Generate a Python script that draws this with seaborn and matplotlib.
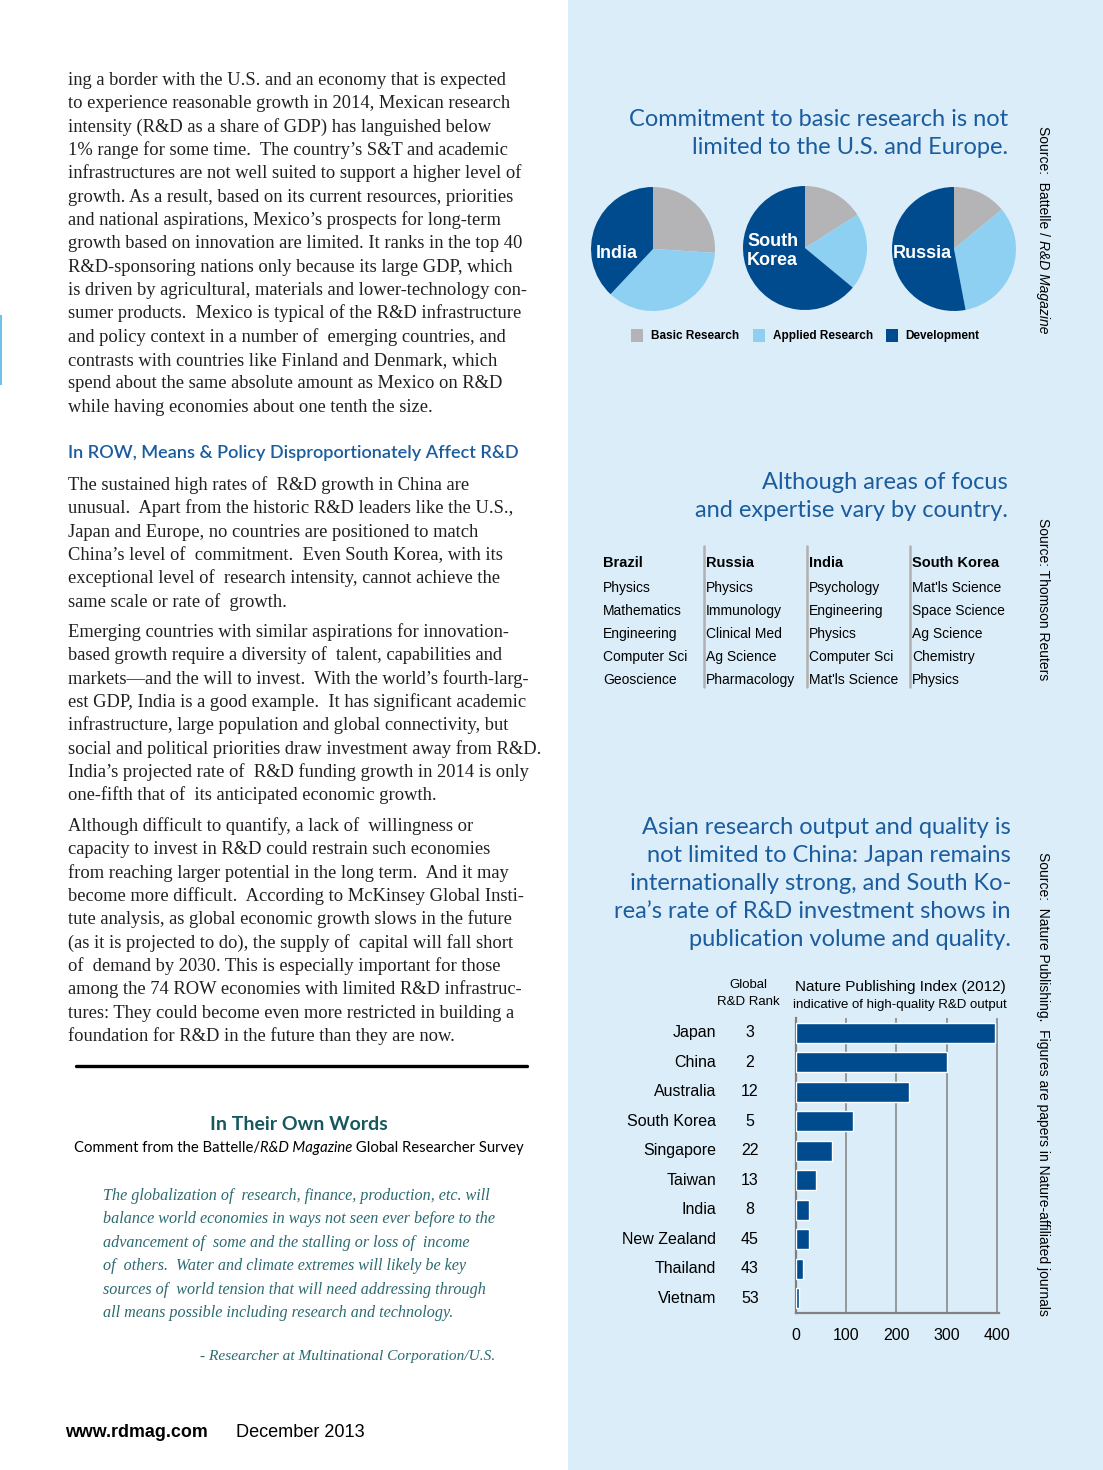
import matplotlib
matplotlib.use("Agg")
import matplotlib.pyplot as plt
import matplotlib.transforms as mtransforms
from matplotlib.patches import Rectangle
from matplotlib.lines import Line2D
from matplotlib.ticker import FixedLocator
import seaborn as sns
import pandas as pd
import numpy as np

# ---------------- data ----------------
pie_labels = ["India", "South\nKorea", "Russia"]
pie_categories = ["Basic Research", "Applied Research", "Development"]
india_shares = [26, 36, 38]
south_korea_shares = [16, 20, 64]
russia_shares = [14, 33, 53]

focus_countries = ["Brazil", "Russia", "India", "South Korea"]
brazil_fields = ["Physics", "Mathematics", "Engineering", "Computer Sci", "Geoscience"]
russia_fields = ["Physics", "Immunology", "Clinical Med", "Ag Science", "Pharmacology"]
india_fields = ["Psychology", "Engineering", "Physics", "Computer Sci", "Mat'ls Science"]
korea_fields = ["Mat'ls Science", "Space Science", "Ag Science", "Chemistry", "Physics"]

npi_countries = ["Japan", "China", "Australia", "South Korea", "Singapore",
                 "Taiwan", "India", "New Zealand", "Thailand", "Vietnam"]
npi_ranks = [3, 2, 12, 5, 22, 13, 8, 45, 43, 53]
npi_values = [397, 301, 224, 113, 71, 39, 26, 26, 13, 5]
npi_ticks = [0, 100, 200, 300, 400]

para1 = [
    "ing a border with the U.S. and an economy that is expected",
    "to experience reasonable growth in 2014, Mexican research",
    "intensity (R&D as a share of GDP) has languished below",
    "1% range for some time.  The country\u2019s S&T and academic",
    "infrastructures are not well suited to support a higher level of",
    "growth. As a result, based on its current resources, priorities",
    "and national aspirations, Mexico\u2019s prospects for long-term",
    "growth based on innovation are limited. It ranks in the top 40",
    "R&D-sponsoring nations only because its large GDP, which",
    "is driven by agricultural, materials and lower-technology con-",
    "sumer products.  Mexico is typical of the R&D infrastructure",
    "and policy context in a number of  emerging countries, and",
    "contrasts with countries like Finland and Denmark, which",
    "spend about the same absolute amount as Mexico on R&D",
    "while having economies about one tenth the size.",
]
heading = "In ROW, Means & Policy Disproportionately Affect R&D"
para2 = [
    "The sustained high rates of  R&D growth in China are",
    "unusual.  Apart from the historic R&D leaders like the U.S.,",
    "Japan and Europe, no countries are positioned to match",
    "China\u2019s level of  commitment.  Even South Korea, with its",
    "exceptional level of  research intensity, cannot achieve the",
    "same scale or rate of  growth.",
]
para3 = [
    "Emerging countries with similar aspirations for innovation-",
    "based growth require a diversity of  talent, capabilities and",
    "markets\u2014and the will to invest.  With the world\u2019s fourth-larg-",
    "est GDP, India is a good example.  It has significant academic",
    "infrastructure, large population and global connectivity, but",
    "social and political priorities draw investment away from R&D.",
    "India\u2019s projected rate of  R&D funding growth in 2014 is only",
    "one-fifth that of  its anticipated economic growth.",
]
para4 = [
    "Although difficult to quantify, a lack of  willingness or",
    "capacity to invest in R&D could restrain such economies",
    "from reaching larger potential in the long term.  And it may",
    "become more difficult.  According to McKinsey Global Insti-",
    "tute analysis, as global economic growth slows in the future",
    "(as it is projected to do), the supply of  capital will fall short",
    "of  demand by 2030. This is especially important for those",
    "among the 74 ROW economies with limited R&D infrastruc-",
    "tures: They could become even more restricted in building a",
    "foundation for R&D in the future than they are now.",
]
quote = [
    "The globalization of  research, finance, production, etc. will",
    "balance world economies in ways not seen ever before to the",
    "advancement of  some and the stalling or loss of  income",
    "of  others.  Water and climate extremes will likely be key",
    "sources of  world tension that will need addressing through",
    "all means possible including research and technology.",
]
attribution = "- Researcher at Multinational Corporation/U.S."

title1 = ["Commitment to basic research is not", "limited to the U.S. and Europe."]
title2 = ["Although areas of focus", "and expertise vary by country."]
title3 = ["Asian research output and quality is",
          "not limited to China: Japan remains",
          "internationally strong, and South Ko-",
          "rea\u2019s rate of R&D investment shows in",
          "publication volume and quality."]

# ---------------- style ----------------
sns.set_style("white")
SERIF = ["Liberation Serif", "DejaVu Serif"]
SANS = ["Liberation Sans", "DejaVu Sans"]
TITLE = ["Lato", "DejaVu Sans"]
plt.rcParams["font.family"] = SANS

W, H = 1103, 1470
PANEL = "#DBEDF9"
GRAY = "#B4B4B6"
LIGHT = "#8ED0F2"
DARK = "#004B8D"
BLUE_T = "#1A5C9E"
TEXT = "#231F20"
TEAL = "#2A6A70"
TEAL_D = "#17585E"

fig = plt.figure(figsize=(W / 100, H / 100), dpi=100)
fig.patch.set_facecolor("white")


def fx(x):
    return x / W


def fy(y):
    return 1 - y / H


def ptext(x, y, s, **kw):
    kw.setdefault("va", "baseline")
    return fig.text(fx(x), fy(y), s, **kw)


def px_axes(x0, y0, w, h):
    a = fig.add_axes([fx(x0), fy(y0 + h), w / W, h / H])
    a.set_zorder(2)
    return a


# right panel background
fig.patches.append(Rectangle((fx(568), 0), 1 - fx(568), 1, transform=fig.transFigure,
                             facecolor=PANEL, edgecolor="none", zorder=-5))
# small edge mark on left
fig.patches.append(Rectangle((0, fy(385)), fx(2), 70 / H, transform=fig.transFigure,
                             facecolor="#6EC3EC", edgecolor="none", zorder=-5))

# ---------------- left column text ----------------
BODY = 13.3
LS = 23.33
for i, line in enumerate(para1):
    ptext(68, 85 + i * LS, line, family=SERIF, fontsize=BODY, color=TEXT)
ptext(68, 458, heading, family=TITLE, fontsize=13.1, color=BLUE_T, fontweight="semibold")
for i, line in enumerate(para2):
    ptext(68, 490 + i * LS, line, family=SERIF, fontsize=BODY, color=TEXT)
for i, line in enumerate(para3):
    ptext(68, 637 + i * LS, line, family=SERIF, fontsize=BODY, color=TEXT)
for i, line in enumerate(para4):
    ptext(68, 831 + i * LS, line, family=SERIF, fontsize=BODY, color=TEXT)

fig.lines.append(Line2D([fx(76), fx(527)], [fy(1066), fy(1066)], transform=fig.transFigure,
                        color="black", lw=2.4))

ptext(299, 1130, "In Their Own Words", family=TITLE, fontsize=14, color=TEAL_D,
      ha="center", fontweight="bold")

renderer = fig.canvas.get_renderer()
parts = [("Comment from the Battelle/", "normal"), ("R&D Magazine", "italic"),
         (" Global Researcher Survey", "normal")]
tmp = []
for s, st in parts:
    t = ptext(0, 1152, s, family=TITLE, fontsize=10.7, color="black", style=st, ha="left")
    tmp.append(t)
widths = [t.get_window_extent(renderer).width for t in tmp]
x = 299 - sum(widths) / 2
for t, w in zip(tmp, widths):
    t.set_x(fx(x))
    x += w

for i, line in enumerate(quote):
    ptext(103, 1200 + i * 23.4, line, family=SERIF, fontsize=11.6, color=TEAL, style="italic")
ptext(495, 1360, attribution, family=SERIF, fontsize=11.1, color=TEAL, style="italic", ha="right")

ptext(65, 1437, "www.rdmag.com", family=SANS, fontsize=12.9, fontweight="bold", color="black")
ptext(236, 1437, "December 2013", family=SANS, fontsize=13.1, color="black")

# ---------------- titles (right) ----------------
for i, line in enumerate(title1):
    ptext(1008, 126 + i * 28, line, family=TITLE, fontsize=17, color=BLUE_T, ha="right")
for i, line in enumerate(title2):
    ptext(1008, 489 + i * 28, line, family=TITLE, fontsize=17, color=BLUE_T, ha="right")
for i, line in enumerate(title3):
    ptext(1011, 834 + i * 28, line, family=TITLE, fontsize=17, color=BLUE_T, ha="right")

# ---------------- pies ----------------
pie_colors = [GRAY, LIGHT, DARK]
pie_data = [india_shares, south_korea_shares, russia_shares]
pie_centers = [(653, 249), (805, 248), (954, 249)]
R = 62
for (cx, cy), vals in zip(pie_centers, pie_data):
    axp = px_axes(cx - R, cy - R, 2 * R, 2 * R)
    axp.pie(vals, colors=pie_colors, startangle=90, counterclock=False, radius=1,
            wedgeprops=dict(linewidth=0))
    axp.set_xlim(-1, 1)
    axp.set_ylim(-1, 1)
    axp.set_aspect("equal")
    axp.axis("off")

lab_kw = dict(family=SANS, fontsize=13, fontweight="bold", color="white", zorder=10)
ptext(596, 258, pie_labels[0], **lab_kw)
ptext(747, 246, pie_labels[1].split("\n")[0], **lab_kw)
ptext(747, 265, pie_labels[1].split("\n")[1], **lab_kw)
ptext(893, 258, pie_labels[2], **lab_kw)

legend_sq = [631, 753, 886]
legend_tx = [651, 773, 905]
for xs, xt, c, lab in zip(legend_sq, legend_tx, pie_colors, pie_categories):
    fig.patches.append(Rectangle((fx(xs), fy(342)), 12 / W, 13 / H, transform=fig.transFigure,
                                 facecolor=c, edgecolor="none"))
    ptext(xt, 339, lab, family=SANS, fontsize=8.5, fontweight="bold", color="black")

# ---------------- focus table ----------------
col_x = [603, 706, 809, 912]
fields = [brazil_fields, russia_fields, india_fields, korea_fields]
for cx, name, flist in zip(col_x, focus_countries, fields):
    ptext(cx, 567, name, family=SANS, fontsize=10.5, fontweight="bold", color="black")
    for j, f in enumerate(flist):
        ptext(cx, 592 + j * 22.9, f, family=SANS, fontsize=10, color="black")
for sx in [704, 807, 910]:
    fig.lines.append(Line2D([fx(sx), fx(sx)], [fy(546), fy(687)], transform=fig.transFigure,
                            color="#B0B0B0", lw=1.8))

# ---------------- bar chart ----------------
AX_L, AX_T, AX_W, AX_H = 796, 1018, 203, 295
ax = px_axes(AX_L, AX_T, AX_W, AX_H)
df = pd.DataFrame({"country": npi_countries, "value": npi_values})
sns.barplot(data=df, x="value", y="country", ax=ax, color=DARK, saturation=1,
            width=0.68, orient="h", zorder=3)
ax.set_facecolor("none")
ax.set_xlim(0, 404)
ax.set_ylim(9.5, -0.5)
ax.set_xlabel("")
ax.set_ylabel("")
for s in ["top", "right"]:
    ax.spines[s].set_visible(False)
for s in ["left", "bottom"]:
    ax.spines[s].set_color("#808080")
    ax.spines[s].set_linewidth(1.6)
ax.set_xticks(npi_ticks)
ax.set_xticklabels([str(t) for t in npi_ticks], fontsize=11.5, color="black", family=SANS)
for lbl in ax.get_xticklabels():
    lbl.set_transform(lbl.get_transform() + mtransforms.Affine2D().translate(-3, 0))
ax.tick_params(axis="x", length=4, width=1.2, color="#808080", pad=7)
ax.xaxis.grid(True, color="#8a8a8a", lw=1.2, zorder=0)
ax.set_axisbelow(True)
ax.set_yticks(range(len(npi_countries)))
ax.set_yticklabels([])
ax.tick_params(axis="y", which="major", length=0)
ax.yaxis.set_minor_locator(FixedLocator(np.arange(-0.5, len(npi_countries), 1.0)))
ax.tick_params(axis="y", which="minor", length=4, width=1.2, color="#808080", direction="out")

blend = mtransforms.blended_transform_factory(ax.transAxes, ax.transData)
for i, (c, r) in enumerate(zip(npi_countries, npi_ranks)):
    ax.text((716 - AX_L) / AX_W, i, c, transform=blend, ha="right", va="center",
            fontsize=11.5, family=SANS, color="black")
    ax.text((750 - AX_L) / AX_W, i, str(r), transform=blend, ha="center", va="center",
            fontsize=11.5, family=SANS, color="black")

ptext(748, 988, "Global", family=SANS, fontsize=9.5, ha="center", color="black")
ptext(748, 1005, "R&D Rank", family=SANS, fontsize=9.5, ha="center", color="black")
ptext(795, 991, "Nature Publishing Index (2012)", family=SANS, fontsize=11, color="black")
ptext(793, 1008, "indicative of high-quality R&D output", family=SANS, fontsize=9.5, color="black")

# ---------------- vertical sources ----------------
SRC_X = 1043
t1 = fig.text(fx(SRC_X), fy(126), "Source:  Battelle / ", rotation=-90, ha="center", va="top",
              fontsize=10, family=SANS, color="black")
h1 = t1.get_window_extent(renderer).height
fig.text(fx(SRC_X), fy(126 + h1), "R&D Magazine", rotation=-90, ha="center", va="top",
         fontsize=10, family=SANS, style="italic", color="black")
fig.text(fx(SRC_X), fy(518), "Source: Thomson Reuters", rotation=-90, ha="center", va="top",
         fontsize=10, family=SANS, color="black")
fig.text(fx(SRC_X), fy(852), "Source:  Nature Publishing.  Figures are papers in Nature-affiliated journals",
         rotation=-90, ha="center", va="top", fontsize=10, family=SANS, color="black")

fig.savefig("out.png", dpi=100, facecolor=fig.get_facecolor())
